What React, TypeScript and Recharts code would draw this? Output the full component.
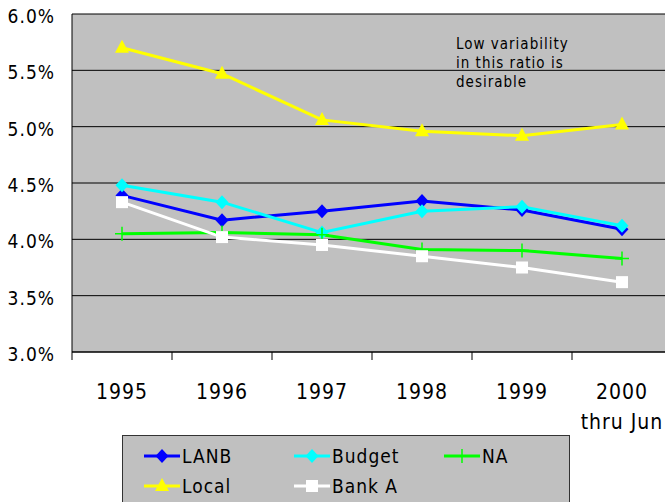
import { LineChart, Line, XAxis, YAxis, CartesianGrid } from 'recharts';

const years = ['1995', '1996', '1997', '1998', '1999', '2000'];
const yearSub = ['', '', '', '', '', 'thru Jun'];
const lanb = [4.39, 4.17, 4.25, 4.34, 4.26, 4.09];
const budget = [4.48, 4.33, 4.06, 4.25, 4.29, 4.12];
const na = [4.05, 4.06, 4.04, 3.91, 3.9, 3.83];
const local = [5.7, 5.47, 5.06, 4.96, 4.92, 5.02];
const bankA = [4.33, 4.02, 3.95, 3.85, 3.75, 3.62];
const yTicks = [3, 3.5, 4, 4.5, 5, 5.5, 6];

const data = years.map((year, i) => ({
  x: i + 0.5,
  year,
  sub: yearSub[i],
  LANB: lanb[i],
  Budget: budget[i],
  NA: na[i],
  Local: local[i],
  BankA: bankA[i],
}));

const FONT = "'Liberation Sans Narrow', 'Arial Narrow', 'DejaVu Sans Condensed', sans-serif";
const PLOT_W = 600;
const HALF = PLOT_W / years.length / 2;

const Diamond = ({ cx, cy, fill }: any) => (
  <polygon points={`${cx},${cy - 7} ${cx + 6.5},${cy} ${cx},${cy + 7} ${cx - 6.5},${cy}`} fill={fill} />
);
const Triangle = ({ cx, cy, fill }: any) => (
  <polygon points={`${cx},${cy - 8} ${cx + 7},${cy + 5} ${cx - 7},${cy + 5}`} fill={fill} />
);
const Square = ({ cx, cy, fill }: any) => <rect x={cx - 6} y={cy - 6} width={12} height={12} fill={fill} />;
const Plus = ({ cx, cy, stroke }: any) => (
  <path d={`M${cx - 7},${cy}H${cx + 7}M${cx},${cy - 7}V${cy + 7}`} stroke={stroke} strokeWidth={1.5} fill="none" />
);

const series = [
  { key: 'LANB', name: 'LANB', color: '#0000FF', Shape: Diamond },
  { key: 'Budget', name: 'Budget', color: '#00FFFF', Shape: Diamond },
  { key: 'NA', name: 'NA', color: '#00FF00', Shape: Plus },
  { key: 'Local', name: 'Local', color: '#FFFF00', Shape: Triangle },
  { key: 'BankA', name: 'Bank A', color: '#FFFFFF', Shape: Square },
];

const XTick = ({ x, y, payload }: any) => {
  const i = Math.floor(payload.value);
  if (i >= years.length) return <g />;
  return (
    <g>
      <text x={x + HALF} y={y + 37} textAnchor="middle" fontFamily={FONT} fontSize={21} letterSpacing={1} fill="#000">
        {years[i]}
      </text>
      {yearSub[i] && (
        <text x={x + HALF} y={y + 67} textAnchor="middle" fontFamily={FONT} fontSize={21} letterSpacing={1} fill="#000">
          {yearSub[i]}
        </text>
      )}
    </g>
  );
};

const YTick = ({ x, y, payload }: any) => (
  <text x={x} y={y + 9} textAnchor="end" fontFamily={FONT} fontSize={19} letterSpacing={1} fill="#000">
    {`${payload.value.toFixed(1)}%`}
  </text>
);

const LegendIcon = ({ s }: any) => (
  <svg width={36} height={16} style={{ display: 'block' }}>
    <line x1={0} y1={8} x2={36} y2={8} stroke={s.color} strokeWidth={3} />
    <s.Shape cx={18} cy={8} fill={s.color} stroke={s.color} />
  </svg>
);

export default function App() {
  return (
    <div style={{ position: 'relative', width: 665, height: 502, overflow: 'hidden', background: '#fff' }}>
      <style>{`body{margin:0}`}</style>
      <LineChart width={680} height={502} data={data} margin={{ top: 14, right: 8, left: 0, bottom: 60 }}>
        <CartesianGrid vertical={false} stroke="#000" fill="#C0C0C0" fillOpacity={1} />
        <XAxis
          dataKey="x"
          type="number"
          domain={[0, 6]}
          ticks={[0, 1, 2, 3, 4, 5, 6]}
          height={90}
          stroke="#000"
          tickSize={8}
          tickMargin={2}
          tick={<XTick />}
        />
        <YAxis
          domain={[3, 6]}
          ticks={yTicks}
          width={72}
          stroke="#000"
          tickLine={false}
          tickSize={0}
          tickMargin={17}
          tick={<YTick />}
        />
        {series.map(s => (
          <Line
            key={s.key}
            dataKey={s.key}
            name={s.name}
            stroke={s.color}
            strokeWidth={3}
            isAnimationActive={false}
            dot={(p: any) => <s.Shape key={`${s.key}-${p.index}`} cx={p.cx} cy={p.cy} fill={s.color} stroke={s.color} />}
            activeDot={false}
          />
        ))}
      </LineChart>
      <div
        style={{
          position: 'absolute',
          left: 456,
          top: 35,
          fontFamily: FONT,
          fontSize: 15,
          letterSpacing: 1,
          lineHeight: '19px',
          color: '#000',
        }}
      >
        Low variability
        <br />
        in this ratio is
        <br />
        desirable
      </div>
      <div
        style={{
          position: 'absolute',
          left: 122,
          top: 435,
          width: 448,
          height: 70,
          boxSizing: 'border-box',
          border: '1px solid #333',
          background: '#C0C0C0',
          fontFamily: FONT,
          fontSize: 19,
          letterSpacing: 1,
        }}
      >
        {series.map((s, i) => (
          <div
            key={s.key}
            style={{
              position: 'absolute',
              left: 21 + (i % 3) * 150,
              top: 9 + Math.floor(i / 3) * 30,
              display: 'flex',
              alignItems: 'center',
              gap: 2,
            }}
          >
            <LegendIcon s={s} />
            <span>{s.name}</span>
          </div>
        ))}
      </div>
    </div>
  );
}
